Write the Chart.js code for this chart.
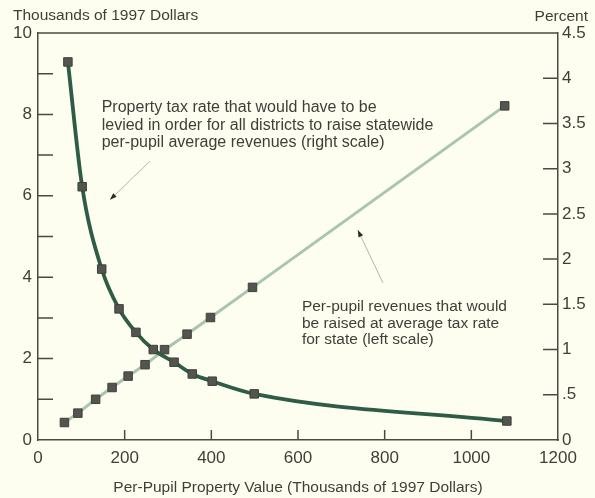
<!DOCTYPE html>
<html><head><meta charset="utf-8">
<script src="https://cdn.jsdelivr.net/npm/chart.js@4.4.1/dist/chart.umd.min.js"></script>
<style>html,body{margin:0;padding:0;background:#fdfdf0;}#wrap{width:595px;height:498px;}</style>
</head><body><div id="wrap"><canvas id="c" width="595" height="498"></canvas></div>
<script>
// Per-pupil revenues raised at average state tax rate (left scale, thousands of 1997 $)
const revenueX = [61, 92, 133, 171, 208, 247, 292, 344, 398, 495, 1077];
const revenueY = [0.43, 0.66, 1.00, 1.29, 1.57, 1.85, 2.22, 2.60, 3.01, 3.75, 8.21];
// Property tax rate needed to raise statewide average revenues (right scale, percent)
const taxRateX = [69, 102, 147, 187, 226, 266, 314, 356, 402, 499, 1082];
const taxRateY = [4.18, 2.80, 1.89, 1.45, 1.19, 1.00, 0.86, 0.73, 0.65, 0.51, 0.21];

const xTickValues = [0, 200, 400, 600, 800, 1000, 1200];
const xTickLabels = ['0', '200', '400', '600', '800', '1000', '1200'];
const leftTickLabels = ['0', '', '2', '', '4', '', '6', '', '8', '', '10'];
const rightTickLabels = ['0', '.5', '1', '1.5', '2', '2.5', '3', '3.5', '4', '4.5'];

const leftTitle = 'Thousands of 1997 Dollars';
const rightTitle = 'Percent';
const xTitle = 'Per-Pupil Property Value (Thousands of 1997 Dollars)';
const note1 = ['Property tax rate that would have to be', 'levied in order for all districts to raise statewide', 'per-pupil average revenues (right scale)'];
const note2 = ['Per-pupil revenues that would', 'be raised at average tax rate', 'for state (left scale)'];

const FONT = "'Liberation Sans', Arial, Helvetica, sans-serif";
const TEXT = '#3f3f38';
const AXIS = '#4a4a42';
const BG = '#fdfdf0';

const bgPlugin = {
  id: 'bg',
  beforeDraw(chart) {
    const ctx = chart.ctx;
    ctx.save(); ctx.fillStyle = BG; ctx.fillRect(0, 0, chart.width, chart.height); ctx.restore();
  }
};

const framePlugin = {
  id: 'frame',
  beforeDatasetsDraw(chart) {
    const {ctx, chartArea: {left, right, top, bottom}, scales: {x, y, y1}} = chart;
    ctx.save();
    ctx.strokeStyle = AXIS; ctx.lineWidth = 1.5;
    ctx.beginPath(); ctx.moveTo(left, top); ctx.lineTo(right, top); ctx.stroke();
    ctx.beginPath();
    y.ticks.forEach(t => { if (t.value > 0 && t.value < 10) { const p = y.getPixelForValue(t.value); ctx.moveTo(left, p); ctx.lineTo(left + 15, p); } });
    y1.ticks.forEach(t => { if (t.value > 0 && t.value < 4.5) { const p = y1.getPixelForValue(t.value); ctx.moveTo(right, p); ctx.lineTo(right - 15, p); } });
    x.ticks.forEach(t => { if (t.value > 0 && t.value < 1200) { const p = x.getPixelForValue(t.value); ctx.moveTo(p, bottom); ctx.lineTo(p, bottom - 10); } });
    ctx.stroke();
    // axis titles
    ctx.fillStyle = TEXT;
    ctx.font = '15.5px ' + FONT;
    ctx.textBaseline = 'middle';
    ctx.textAlign = 'left'; ctx.fillText(leftTitle, 13, 16);
    ctx.textAlign = 'right'; ctx.fillText(rightTitle, 588, 17);
    // annotations (anchored in data coordinates)
    ctx.font = '16px ' + FONT;
    ctx.textAlign = 'left';
    const n1x = x.getPixelForValue(147), n1y = y.getPixelForValue(8.16);
    note1.forEach((s, i) => ctx.fillText(s, n1x, n1y + i * 17.5));
    ctx.font = '15.5px ' + FONT;
    const n2x = x.getPixelForValue(609), n2y = y.getPixelForValue(3.27);
    note2.forEach((s, i) => ctx.fillText(s, n2x, n2y + i * 16.5));
    const arrow = (x0, y0, x1, y1v) => {
      const ax = x.getPixelForValue(x0), ay = y.getPixelForValue(y0);
      const bx = x.getPixelForValue(x1), by = y.getPixelForValue(y1v);
      ctx.strokeStyle = '#b8b8a8'; ctx.lineWidth = 1;
      ctx.beginPath(); ctx.moveTo(ax, ay); ctx.lineTo(bx, by); ctx.stroke();
      const ang = Math.atan2(by - ay, bx - ax);
      ctx.fillStyle = '#2a2a26';
      ctx.beginPath();
      ctx.moveTo(bx, by);
      ctx.lineTo(bx - 7 * Math.cos(ang) + 2.5 * Math.sin(ang), by - 7 * Math.sin(ang) - 2.5 * Math.cos(ang));
      ctx.lineTo(bx - 7 * Math.cos(ang) - 2.5 * Math.sin(ang), by - 7 * Math.sin(ang) + 2.5 * Math.cos(ang));
      ctx.closePath(); ctx.fill();
    };
    arrow(258, 6.85, 166, 5.9);
    arrow(796, 3.86, 738, 5.16);
    ctx.restore();
  }
};

const tickFont = { family: FONT, size: 17 };

new Chart(document.getElementById('c'), {
  type: 'line',
  data: {
    datasets: [
      {
        label: 'Property tax rate (right scale)',
        data: taxRateX.map((v, i) => ({ x: v, y: taxRateY[i] })),
        yAxisID: 'y1',
        borderColor: '#2e5c45',
        borderWidth: 3.8,
        cubicInterpolationMode: 'monotone',
        pointStyle: 'rect',
        pointRadius: 6,
        pointBackgroundColor: '#52564e',
        pointBorderColor: '#3e413b',
        pointBorderWidth: 1,
        order: 0
      },
      {
        label: 'Per-pupil revenues (left scale)',
        data: revenueX.map((v, i) => ({ x: v, y: revenueY[i] })),
        yAxisID: 'y',
        borderColor: '#a9c6ad',
        borderWidth: 3,
        tension: 0,
        pointStyle: 'rect',
        pointRadius: 6,
        pointBackgroundColor: '#52564e',
        pointBorderColor: '#3e413b',
        pointBorderWidth: 1,
        order: 1
      }
    ]
  },
  options: {
    responsive: false,
    animation: false,
    devicePixelRatio: 1,
    layout: { padding: { top: 33, left: 0, right: 0, bottom: 0 } },
    plugins: { legend: { display: false }, tooltip: { enabled: false } },
    scales: {
      x: {
        type: 'linear', min: 0, max: 1200,
        afterBuildTicks: s => { s.ticks = xTickValues.map(v => ({ value: v })); },
        ticks: { font: tickFont, color: TEXT, padding: 8, autoSkip: false, maxRotation: 0, callback: (v, i) => xTickLabels[i] },
        grid: { display: false, drawTicks: false },
        border: { display: true, color: AXIS, width: 1.5 },
        title: { display: true, text: xTitle, font: { family: FONT, size: 15.5 }, color: TEXT, padding: { top: 0, bottom: 1 } },
        afterFit: s => { s.height = 58; }
      },
      y: {
        type: 'linear', position: 'left', min: 0, max: 10,
        ticks: { stepSize: 1, font: tickFont, color: TEXT, padding: 6, autoSkip: false, callback: (v, i) => leftTickLabels[i] },
        grid: { display: false, drawTicks: false },
        border: { display: true, color: AXIS, width: 1.5 },
        afterFit: s => { s.width = 38; }
      },
      y1: {
        type: 'linear', position: 'right', min: 0, max: 4.5,
        ticks: { stepSize: 0.5, font: tickFont, color: TEXT, padding: 4, autoSkip: false, callback: (v, i) => rightTickLabels[i] },
        grid: { display: false, drawTicks: false },
        border: { display: true, color: AXIS, width: 1.5 },
        afterFit: s => { s.width = 37; }
      }
    }
  },
  plugins: [bgPlugin, framePlugin]
});
</script>
</body></html>
